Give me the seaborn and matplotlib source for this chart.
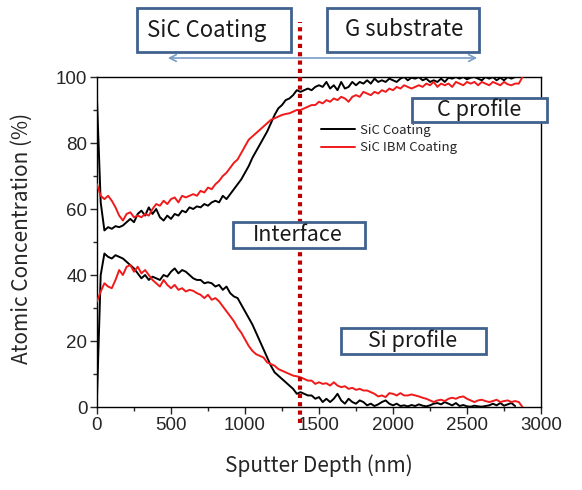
import numpy as np
import pandas as pd
import matplotlib
matplotlib.use("Agg")
import matplotlib.pyplot as plt
from matplotlib.patches import Rectangle, FancyArrowPatch
from matplotlib.ticker import MultipleLocator
import seaborn as sns

# ---- data ----
step_nm = 25
c_sic = [93, 62, 53.5, 54.5, 54, 54.8, 54.5, 55, 56, 57, 56, 58.5, 59.5, 58, 60.5, 58.5, 60, 57.5, 56.5, 58,
         57, 58.5, 58, 59.5, 59, 60.5, 60, 60.8, 60.5, 61.5, 61, 62, 62.5, 62, 64, 63, 64.5, 66, 67.5, 69,
         71, 73, 75.5, 77.5, 79.5, 81.5, 83.5, 86, 88.5, 90.5, 91.5, 93, 93.5, 94.5, 96, 95.5, 96, 96.5, 96, 97,
         97.5, 97, 98.5, 96.5, 97.5, 96, 98.5, 96.5, 97, 98.5, 97.5, 98.5, 98, 99, 98, 99.5, 98.5, 99, 98.5, 99.5,
         99, 98.5, 99.5, 100, 99, 99.8, 99.5, 100, 99, 99.5, 98.5, 99, 98.5, 99.5, 98.5, 99.8, 99.5, 100, 99.5, 100,
         99.3, 99.8, 100, 99.5, 99, 100, 99.5, 100, 99, 99.8, 99, 100, 99.5, 100]
c_ibm = [67.5, 64, 63, 64, 62.5, 60.5, 58, 56.5, 58.5, 59, 57.5, 58, 57.5, 58.5, 58, 60, 61.5, 61, 62.5, 61.5,
         63, 63.5, 62, 64, 63.5, 64, 64.5, 64, 65.5, 65, 66.5, 66, 67.5, 68.5, 70, 71, 72.5, 74, 75, 77,
         79, 81, 82, 83, 84, 85, 86, 87, 87.5, 88, 88.5, 88.8, 89, 89.5, 90, 90, 90.5, 91, 91.5, 91.5,
         92.5, 92, 93, 92.5, 93.5, 93, 94, 93.5, 92.5, 94, 94.5, 94, 95.5, 95, 94.5, 95.5, 95, 96, 95.5, 96.5,
         96, 97, 96.5, 97.5, 97, 96.5, 97, 97.5, 97, 98, 97.5, 98.5, 97, 98, 97.5, 98, 97, 98.5, 98, 97.5,
         98.5, 98, 98.5, 97.5, 98.5, 98, 97.5, 98.5, 98, 97.5, 98.5, 97.8, 97.5, 98, 98, 100]
si_sic = [3, 40, 46.5, 45.5, 45, 46, 45.5, 45, 44, 43, 42, 40.5, 39, 40, 38.5, 39.5, 39, 38.5, 40, 39.5,
          41, 42, 40.5, 41.5, 41, 40, 39, 38.5, 38.5, 37.5, 37.8, 37.5, 36.5, 37, 35.5, 36.5, 34.5, 33.5, 33, 31,
          29, 27, 25, 22.5, 20, 17.5, 15, 12.5, 10.5, 9.5, 8.5, 7.5, 6.5, 5.5, 4, 4.5, 4, 3.5, 3.5, 2.5,
          3, 1.5, 2.5, 1.5, 2.5, 4, 2, 1, 2.5, 1.5, 1, 2, 1.5, 0.5, 1, 0.3, 0.8, 1.5, 2, 1,
          0.5, 1, 0.3, 0.5, 0.2, 0.6, 0.3, 0.8, 0.4, 0.2, 0.5, 1, 1.2, 0.8, 1.5, 1, 0.5, 1.2, 0.3, 0.6,
          0.2, 0.1, 0.4, 0.2, 0.1, 0.3, 0.5, 1, 0.5, 1.2, 0.4, 0.8, 1.2, 0.3]
si_ibm = [32, 35, 37.5, 36.5, 36, 38.5, 41.5, 40, 42.5, 43, 41, 42.5, 40.5, 41.5, 40, 38.5, 37.5, 36.5, 38.5, 37,
          36, 37, 35.5, 36, 35, 35.5, 35.2, 34.5, 34, 33, 34, 32.5, 33, 32, 30.5, 29, 27.5, 26, 24, 22.5,
          20.5, 18.5, 17, 16, 15.5, 15, 13.5, 13, 12.5, 11.5, 11, 10.5, 10, 9.5, 9.3, 9, 8.5, 8, 8, 7,
          7.5, 7, 7.2, 6.5, 7.5, 6.5, 6, 6.3, 5.5, 5.8, 5.2, 5.5, 5, 5, 4.5, 4, 3.2, 3.5, 3, 4.2,
          4, 3.5, 4.2, 3.5, 3.5, 3.8, 3.5, 3.2, 2.8, 2.5, 2, 1.5, 2, 2.2, 1.8, 2.5, 2.8, 2.5, 3, 3.2,
          2.5, 2, 1.5, 2, 2.2, 1.8, 1.5, 1.8, 2.2, 1.5, 1.8, 2, 1.5, 1.8, 1.5, 0]
series_names = ["SiC Coating", "SiC IBM Coating"]
interface_nm = 1370
x_ticks = [0, 500, 1000, 1500, 2000, 2500, 3000]
y_ticks = [0, 20, 40, 60, 80, 100]

# ---- build tidy frame ----
frames = []
for elem, vals, name in [("C", c_sic, series_names[0]), ("C", c_ibm, series_names[1]),
                         ("Si", si_sic, series_names[0]), ("Si", si_ibm, series_names[1])]:
    frames.append(pd.DataFrame({"depth": step_nm * np.arange(len(vals)), "conc": vals,
                                "sample": name, "element": elem}))
df = pd.concat(frames, ignore_index=True)

sns.set_style("white")
KR = ["Noto Sans CJK KR", "DejaVu Sans"]
ARIAL = ["Liberation Sans", "DejaVu Sans"]

W, H = 582, 490
fig = plt.figure(figsize=(W / 100, H / 100), dpi=100)
L, R, T, B = 97, 541, 77, 407
ax = fig.add_axes([L / W, 1 - B / H, (R - L) / W, (B - T) / H])

palette = {series_names[0]: "#000000", series_names[1]: "#f01a1a"}
for elem in ["C", "Si"]:
    for name in series_names:
        sub = df[(df.element == elem) & (df["sample"] == name)]
        sns.lineplot(data=sub, x="depth", y="conc", color=palette[name], lw=1.4, ax=ax,
                     label=name if elem == "C" else None, zorder=3)

ax.set_xlim(0, 3000)
ax.set_ylim(0, 100)
ax.set_xticks(x_ticks)
ax.set_yticks(y_ticks)
ax.xaxis.set_minor_locator(MultipleLocator(250))
ax.yaxis.set_minor_locator(MultipleLocator(10))
ax.tick_params(axis="both", which="major", direction="out", length=5, width=1, labelsize=13.5,
               bottom=True, left=True, top=False, right=False, pad=2)
ax.tick_params(axis="both", which="minor", direction="out", length=3, width=1,
               bottom=True, left=True, top=False, right=False)
for lab in ax.get_xticklabels() + ax.get_yticklabels():
    lab.set_family(ARIAL)
for s in ax.spines.values():
    s.set_color("black")
    s.set_linewidth(1.0)

ax.set_xlabel("Sputter Depth (nm)", family=KR, fontsize=15)
ax.set_ylabel("Atomic Concentration (%)", family=KR, fontsize=15)
ax.xaxis.set_label_coords((319 - L) / (R - L), -(466 - B) / (B - T))
ax.yaxis.set_label_coords(-(L - 22) / (R - L), (B - 238) / (B - T))
ax.xaxis.label.set_va("center")
ax.yaxis.label.set_va("center")

leg = ax.legend(loc="upper left", bbox_to_anchor=(309 / W, 1 - 112 / H), bbox_transform=fig.transFigure,
                frameon=False, handlelength=2.6, handletextpad=0.4, labelspacing=0.35,
                prop={"family": KR, "size": 9.5})

# interface dotted line
ax.axvline(interface_nm, ymin=(B - 423) / (B - T), ymax=(B - 22) / (B - T), color="#c00000",
           lw=3, ls=(0, (1, 1)), clip_on=False, zorder=5)

# arrow
fig.add_artist(FancyArrowPatch((165 / W, 1 - 58 / H), (480 / W, 1 - 58 / H),
                               transform=fig.transFigure, arrowstyle="<->",
                               mutation_scale=12, color="#7a9cc8", lw=1.2))

# boxes: text, x0, x1, y0, y1, font size, text centre x
boxes = [("SiC Coating", 137, 291, 8, 52, 16, 207),
         ("G substrate", 327, 479, 8, 52, 16, 404),
         ("C profile", 412, 547, 98, 122, 15.5, 479),
         ("Interface", 233, 365, 222, 248, 15.5, 298),
         ("Si profile", 341, 486, 328, 354, 15.5, 413)]
for text, x0, x1, y0, y1, fs, cx in boxes:
    fig.add_artist(Rectangle((x0 / W, 1 - y1 / H), (x1 - x0) / W, (y1 - y0) / H, transform=fig.transFigure,
                             facecolor="white", edgecolor="#41618f", lw=2, zorder=6))
    fig.text(cx / W, 1 - (y0 + y1) / 2 / H, text, ha="center", va="center",
             family=KR, fontsize=fs, color="#1a1a1a", zorder=7)

fig.savefig("out.png", dpi=100)
